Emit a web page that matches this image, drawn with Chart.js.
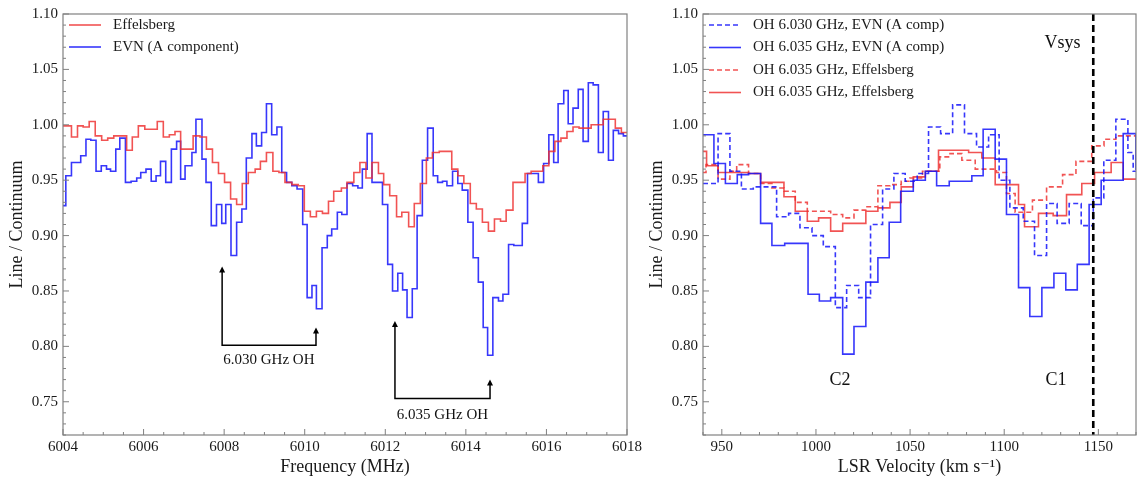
<!DOCTYPE html>
<html>
<head>
<meta charset="utf-8">
<script src="https://cdn.jsdelivr.net/npm/chart.js@4.4.1/dist/chart.umd.min.js"></script>
<style>
  html, body { margin: 0; padding: 0; background: #fff; }
  #wrap { position: relative; width: 1137px; height: 486px; }
  canvas { position: absolute; top: 0; }
  #left { left: 0; }
  #right { left: 640px; }
</style>
</head>
<body>
<div id="wrap">
  <canvas id="left" width="660" height="486"></canvas>
  <canvas id="right" width="497" height="486"></canvas>
</div>
<script>
// ---- data (bin left edges, last entry = right edge) ----
const freqTicks = [6004, 6006, 6008, 6010, 6012, 6014, 6016, 6018];
const velTicks = [950, 1000, 1050, 1100, 1150];
const yTicks = [0.75, 0.80, 0.85, 0.90, 0.95, 1.00, 1.05, 1.10];

const effFreq = [6004.00, 6004.21, 6004.36, 6004.50, 6004.65, 6004.80, 6004.96, 6005.11, 6005.26, 6005.58,
  6005.72, 6005.87, 6006.03, 6006.34, 6006.49, 6006.64, 6006.78, 6006.92, 6007.23, 6007.40,
  6007.56, 6007.71, 6007.86, 6008.01, 6008.16, 6008.31, 6008.45, 6008.60, 6008.77, 6008.90,
  6009.05, 6009.21, 6009.36, 6009.51, 6009.68, 6009.84, 6009.99, 6010.14, 6010.29, 6010.44,
  6010.59, 6010.72, 6010.91, 6011.05, 6011.22, 6011.37, 6011.52, 6011.67, 6011.83, 6011.96,
  6012.11, 6012.28, 6012.41, 6012.58, 6012.72, 6012.87, 6013.02, 6013.17, 6013.34, 6013.65,
  6013.80, 6013.95, 6014.11, 6014.26, 6014.41, 6014.56, 6014.71, 6014.86, 6015.00, 6015.17,
  6015.47, 6015.62, 6015.91, 6016.06, 6016.21, 6016.36, 6016.51, 6016.66, 6016.81, 6017.11,
  6017.41, 6017.71, 6017.86, 6018.00];
const effVal = [0.999, 0.989, 0.999, 0.998, 1.003, 0.990, 0.986, 0.988, 0.990, 0.977,
  0.989, 0.999, 0.996, 1.003, 0.989, 0.991, 0.994, 0.978, 0.990, 0.989,
  0.978, 0.966, 0.956, 0.948, 0.933, 0.928, 0.947, 0.957, 0.960, 0.967,
  0.975, 0.958, 0.957, 0.948, 0.946, 0.945, 0.922, 0.917, 0.922, 0.920,
  0.931, 0.940, 0.943, 0.948, 0.957, 0.966, 0.952, 0.966, 0.956, 0.946,
  0.936, 0.917, 0.921, 0.908, 0.929, 0.947, 0.970, 0.975, 0.976, 0.960,
  0.954, 0.947, 0.929, 0.924, 0.912, 0.904, 0.915, 0.913, 0.923, 0.948,
  0.956, 0.958, 0.963, 0.976, 0.985, 0.988, 0.994, 0.998, 0.997, 1.000,
  1.005, 0.997, 0.993];

const evnFreq = [6004.00, 6004.07, 6004.21, 6004.44, 6004.57, 6004.69, 6004.82, 6004.95, 6005.08, 6005.18,
  6005.31, 6005.41, 6005.55, 6005.69, 6005.83, 6005.93, 6006.06, 6006.19, 6006.31, 6006.42,
  6006.55, 6006.69, 6006.82, 6006.92, 6007.03, 6007.20, 6007.30, 6007.45, 6007.55, 6007.68,
  6007.81, 6007.94, 6008.04, 6008.17, 6008.31, 6008.44, 6008.55, 6008.69, 6008.80, 6008.93,
  6009.05, 6009.18, 6009.31, 6009.43, 6009.55, 6009.68, 6009.81, 6009.95, 6010.06, 6010.18,
  6010.29, 6010.43, 6010.56, 6010.67, 6010.81, 6010.92, 6011.05, 6011.19, 6011.32, 6011.43,
  6011.55, 6011.67, 6011.93, 6012.06, 6012.18, 6012.31, 6012.43, 6012.54, 6012.67, 6012.79,
  6012.92, 6013.05, 6013.19, 6013.30, 6013.42, 6013.53, 6013.67, 6013.80, 6013.91, 6014.05,
  6014.18, 6014.31, 6014.43, 6014.54, 6014.67, 6014.81, 6014.92, 6015.06, 6015.19, 6015.40,
  6015.53, 6015.80, 6015.93, 6016.06, 6016.18, 6016.29, 6016.43, 6016.54, 6016.66, 6016.79,
  6016.91, 6017.04, 6017.16, 6017.29, 6017.41, 6017.54, 6017.66, 6017.79, 6017.91, 6018.00];
const evnVal = [0.927, 0.954, 0.966, 0.972, 0.987, 0.986, 0.958, 0.963, 0.960, 0.958,
  0.978, 0.988, 0.948, 0.949, 0.952, 0.957, 0.960, 0.949, 0.954, 0.967,
  0.948, 0.978, 0.985, 0.951, 0.963, 0.975, 1.005, 0.969, 0.948, 0.909,
  0.928, 0.911, 0.928, 0.882, 0.912, 0.924, 0.970, 0.992, 0.981, 0.993,
  1.019, 0.991, 0.998, 0.957, 0.948, 0.945, 0.942, 0.910, 0.844, 0.855,
  0.834, 0.889, 0.900, 0.906, 0.921, 0.919, 0.947, 0.945, 0.943, 0.960,
  0.992, 0.948, 0.928, 0.874, 0.850, 0.866, 0.851, 0.826, 0.852, 0.918,
  0.968, 0.997, 0.954, 0.948, 0.949, 0.945, 0.958, 0.947, 0.941, 0.912,
  0.880, 0.858, 0.817, 0.792, 0.844, 0.841, 0.847, 0.892, 0.891, 0.911,
  0.956, 0.948, 0.965, 0.991, 0.966, 1.019, 1.031, 1.001, 1.015, 1.032,
  0.985, 1.038, 1.036, 0.975, 1.012, 0.968, 0.995, 0.992, 0.990];

const vel6030Evn = [940.0, 948.0, 954.3, 960.4, 966.7, 973.1, 979.1, 985.5, 991.5, 997.9,
  1003.9, 1010.3, 1016.3, 1022.7, 1029.0, 1035.4, 1041.4, 1047.4, 1053.8, 1059.8,
  1066.2, 1072.6, 1078.9, 1085.3, 1091.7, 1097.3, 1103.0, 1110.1, 1116.1, 1122.5,
  1128.1, 1134.5, 1140.9, 1147.3, 1152.9, 1159.3, 1165.7, 1168.5, 1170];
const val6030Evn = [0.947, 0.992, 0.958, 0.942, 0.944, 0.944, 0.917, 0.920, 0.907, 0.900,
  0.890, 0.835, 0.855, 0.844, 0.910, 0.942, 0.956, 0.949, 0.956, 0.998,
  0.992, 1.018, 0.992, 0.980, 0.991, 0.950, 0.925, 0.913, 0.882, 0.929,
  0.911, 0.929, 0.909, 0.934, 0.968, 1.005, 0.975, 0.958];

const vel6035Evn = [940.0, 945.8, 951.9, 958.2, 964.2, 970.6, 976.6, 983.4, 995.8, 1001.8,
  1007.8, 1014.2, 1020.2, 1026.5, 1032.9, 1038.9, 1045.0, 1051.7, 1058.1, 1064.1,
  1070.8, 1082.8, 1088.8, 1095.2, 1101.2, 1107.6, 1113.6, 1120.0, 1126.4, 1132.7,
  1138.8, 1145.1, 1151.5, 1163.2, 1169.9, 1170];
const val6035Evn = [0.991, 0.965, 0.947, 0.955, 0.956, 0.911, 0.891, 0.893, 0.847, 0.841,
  0.844, 0.793, 0.818, 0.858, 0.880, 0.912, 0.940, 0.950, 0.958, 0.945,
  0.949, 0.954, 0.996, 0.969, 0.919, 0.853, 0.827, 0.853, 0.866, 0.851,
  0.874, 0.928, 0.950, 0.992, 0.960];

const vel6035EffA = [940.0, 941.6, 948.0, 954.3, 957.9, 964.2, 970.6, 976.6, 983.0, 989.0,
  995.4, 1007.8, 1014.2, 1020.2, 1026.5, 1032.9, 1039.3, 1045.3, 1049.9, 1056.6,
  1065.8, 1071.2, 1077.5, 1084.6, 1095.9, 1101.2, 1105.8, 1115.0, 1122.5, 1131.0,
  1138.1, 1146.5, 1153.0, 1159.3, 1170];
const val6035EffA = [0.957, 0.964, 0.951, 0.958, 0.964, 0.956, 0.947, 0.943, 0.940, 0.930,
  0.922, 0.919, 0.916, 0.923, 0.926, 0.945, 0.946, 0.949, 0.952, 0.958,
  0.971, 0.974, 0.968, 0.960, 0.957, 0.938, 0.921, 0.932, 0.944, 0.955,
  0.967, 0.981, 0.987, 0.990];

const vel6035EffB = [940.0, 941.9, 948.0, 964.2, 970.6, 983.0, 989.0, 995.4, 1001.4, 1007.8,
  1014.2, 1026.5, 1032.9, 1039.3, 1045.3, 1051.7, 1058.1, 1065.1, 1081.1, 1088.1,
  1095.2, 1107.6, 1110.8, 1118.2, 1126.0, 1133.1, 1141.2, 1148.0, 1156.8, 1163.2, 1170];
const val6035EffB = [0.976, 0.963, 0.957, 0.956, 0.948, 0.935, 0.922, 0.913, 0.916, 0.904,
  0.911, 0.922, 0.925, 0.930, 0.944, 0.953, 0.958, 0.977, 0.975, 0.970,
  0.946, 0.928, 0.908, 0.920, 0.918, 0.937, 0.947, 0.957, 0.966, 0.951];

const vsys = 1147.3;

// ---- styling ----
const RED = 'rgba(238,45,45,0.82)';
const BLUE = 'rgba(20,20,250,0.85)';
const SERIF = "'Liberation Serif', 'DejaVu Serif', serif";
Chart.defaults.font.family = SERIF;
Chart.defaults.color = '#1a1a1a';

function stepPoints(edges, vals) {
  return edges.map((e, i) => ({ x: e, y: vals[Math.min(i, vals.length - 1)] }));
}

function series(label, edges, vals, color, dash) {
  return {
    label: label,
    data: stepPoints(edges, vals),
    borderColor: color,
    borderWidth: 1.6,
    borderDash: dash || [],
    stepped: 'before',
    pointRadius: 0,
    fill: false
  };
}

// frame + inward major/minor ticks
const frameTicks = {
  id: 'frameTicks',
  afterDatasetsDraw(chart, args, opts) {
    const { ctx, chartArea: a, scales: { x, y } } = chart;
    ctx.save();
    ctx.strokeStyle = '#808080';
    ctx.lineWidth = 1.2;
    ctx.strokeRect(a.left, a.top, a.right - a.left, a.bottom - a.top);
    ctx.lineWidth = 1;
    ctx.beginPath();
    const nx = Math.round((x.max - x.min) / opts.xMinor);
    for (let i = 0; i <= nx; i++) {
      const v = x.min + i * opts.xMinor;
      const px = x.getPixelForValue(v);
      const major = opts.xMajor.some(t => Math.abs(t - v) < 1e-6);
      ctx.moveTo(px, a.bottom);
      ctx.lineTo(px, a.bottom - (major ? 6 : 3));
    }
    const ny = Math.round((y.max - y.min) / 0.01);
    for (let i = 0; i <= ny; i++) {
      const v = y.min + i * 0.01;
      const py = y.getPixelForValue(v);
      const major = yTicks.some(t => Math.abs(t - v) < 1e-6);
      ctx.moveTo(a.left, py);
      ctx.lineTo(a.left + (major ? 6 : 3), py);
    }
    ctx.stroke();
    ctx.restore();
  }
};

// legend drawn inside the plot area, upper left
const innerLegend = {
  id: 'innerLegend',
  afterDatasetsDraw(chart, args, opts) {
    const { ctx, chartArea: a } = chart;
    ctx.save();
    ctx.font = '15px ' + SERIF;
    ctx.textBaseline = 'middle';
    chart.data.datasets.forEach((ds, i) => {
      const yy = a.top + opts.top + i * opts.gap;
      ctx.strokeStyle = ds.borderColor;
      ctx.lineWidth = ds.borderWidth;
      ctx.setLineDash(ds.borderDash);
      ctx.beginPath();
      ctx.moveTo(a.left + 6, yy);
      ctx.lineTo(a.left + 38, yy);
      ctx.stroke();
      ctx.setLineDash([]);
      ctx.fillStyle = '#1a1a1a';
      ctx.fillText(ds.label, a.left + 50, yy);
    });
    ctx.restore();
  }
};

// arrows, labels and lines given in data coordinates
const notes = {
  id: 'notes',
  afterDatasetsDraw(chart, args, opts) {
    const { ctx, scales: { x, y }, chartArea: a } = chart;
    ctx.save();
    ctx.strokeStyle = '#000';
    ctx.fillStyle = '#000';
    (opts.arrows || []).forEach(ar => {
      const x1 = x.getPixelForValue(ar.x1), x2 = x.getPixelForValue(ar.x2);
      const t1 = y.getPixelForValue(ar.top1), t2 = y.getPixelForValue(ar.top2);
      const b = y.getPixelForValue(ar.base);
      ctx.lineWidth = 1.5;
      ctx.beginPath();
      ctx.moveTo(x1, t1 + 4); ctx.lineTo(x1, b); ctx.lineTo(x2, b); ctx.lineTo(x2, t2 + 4);
      ctx.stroke();
      [[x1, t1], [x2, t2]].forEach(([px, py]) => {
        ctx.beginPath();
        ctx.moveTo(px, py); ctx.lineTo(px - 3, py + 6); ctx.lineTo(px + 3, py + 6);
        ctx.closePath(); ctx.fill();
      });
    });
    (opts.vlines || []).forEach(vl => {
      const px = x.getPixelForValue(vl.x);
      ctx.lineWidth = 2.6;
      ctx.setLineDash([7, 4]);
      ctx.beginPath();
      ctx.moveTo(px, a.top); ctx.lineTo(px, a.bottom);
      ctx.stroke();
      ctx.setLineDash([]);
    });
    ctx.textAlign = 'center';
    ctx.textBaseline = 'middle';
    (opts.labels || []).forEach(lb => {
      ctx.font = lb.size + 'px ' + SERIF;
      ctx.fillStyle = '#111';
      ctx.fillText(lb.text, x.getPixelForValue(lb.x), y.getPixelForValue(lb.y));
    });
    ctx.restore();
  }
};

function makeChart(id, datasets, xMin, xMax, xMajor, xMinor, xTitle, padRight, legendGap, noteOpts) {
  return new Chart(document.getElementById(id), {
    type: 'line',
    data: { datasets: datasets },
    options: {
      responsive: false,
      animation: false,
      devicePixelRatio: 1,
      layout: { padding: { top: 14, right: padRight, left: 0, bottom: 0 } },
      plugins: {
        legend: { display: false },
        tooltip: { enabled: false },
        frameTicks: { xMajor: xMajor, xMinor: xMinor },
        innerLegend: { top: 11, gap: legendGap },
        notes: noteOpts
      },
      scales: {
        x: {
          type: 'linear', min: xMin, max: xMax,
          afterBuildTicks: s => { s.ticks = xMajor.map(v => ({ value: v })); },
          ticks: { callback: v => String(v), font: { size: 15 }, color: '#1a1a1a', padding: 3, maxRotation: 0, autoSkip: false },
          grid: { display: false, drawTicks: false },
          border: { display: false },
          title: { display: true, text: xTitle, font: { size: 18 }, color: '#1a1a1a', padding: { top: 0, bottom: 8 } },
          afterFit: s => { s.height = 51; s.paddingLeft = 0; s.paddingRight = 0; }
        },
        y: {
          type: 'linear', min: 0.72, max: 1.10,
          afterBuildTicks: s => { s.ticks = yTicks.map(v => ({ value: v })); },
          ticks: { callback: v => v.toFixed(2), font: { size: 15 }, color: '#1a1a1a', padding: 5, autoSkip: false },
          grid: { display: false, drawTicks: false },
          border: { display: false },
          title: { display: true, text: 'Line / Continuum', font: { size: 18 }, color: '#1a1a1a', padding: { top: 6, bottom: 0 } },
          afterFit: s => { s.width = 63; s.paddingTop = 0; s.paddingBottom = 0; }
        }
      }
    },
    plugins: [notes, frameTicks, innerLegend]
  });
}

makeChart('left', [
  series('Effelsberg', effFreq, effVal, RED),
  series('EVN (A component)', evnFreq, evnVal, BLUE)
], 6004, 6018, freqTicks, 0.5, 'Frequency (MHz)', 33, 22, {
  arrows: [
    { x1: 6007.95, top1: 0.872, base: 0.801, x2: 6010.28, top2: 0.817 },
    { x1: 6012.24, top1: 0.823, base: 0.753, x2: 6014.60, top2: 0.770 }
  ],
  labels: [
    { text: '6.030 GHz OH', x: 6009.11, y: 0.788, size: 15 },
    { text: '6.035 GHz OH', x: 6013.42, y: 0.738, size: 15 }
  ]
});

makeChart('right', [
  series('OH 6.030 GHz, EVN (A comp)', vel6030Evn, val6030Evn, BLUE, [5, 3]),
  series('OH 6.035 GHz, EVN (A comp)', vel6035Evn, val6035Evn, BLUE),
  series('OH 6.035 GHz, Effelsberg', vel6035EffA, val6035EffA, RED, [5, 3]),
  series('OH 6.035 GHz, Effelsberg', vel6035EffB, val6035EffB, RED)
], 940, 1170, velTicks, 10, 'LSR Velocity (km s\u207B\u00B9)', 1, 22.5, {
  vlines: [{ x: vsys }],
  labels: [
    { text: 'C2', x: 1012.8, y: 0.769, size: 18 },
    { text: 'C1', x: 1127.5, y: 0.769, size: 18 },
    { text: 'Vsys', x: 1131, y: 1.074, size: 18 }
  ]
});
</script>
</body>
</html>
